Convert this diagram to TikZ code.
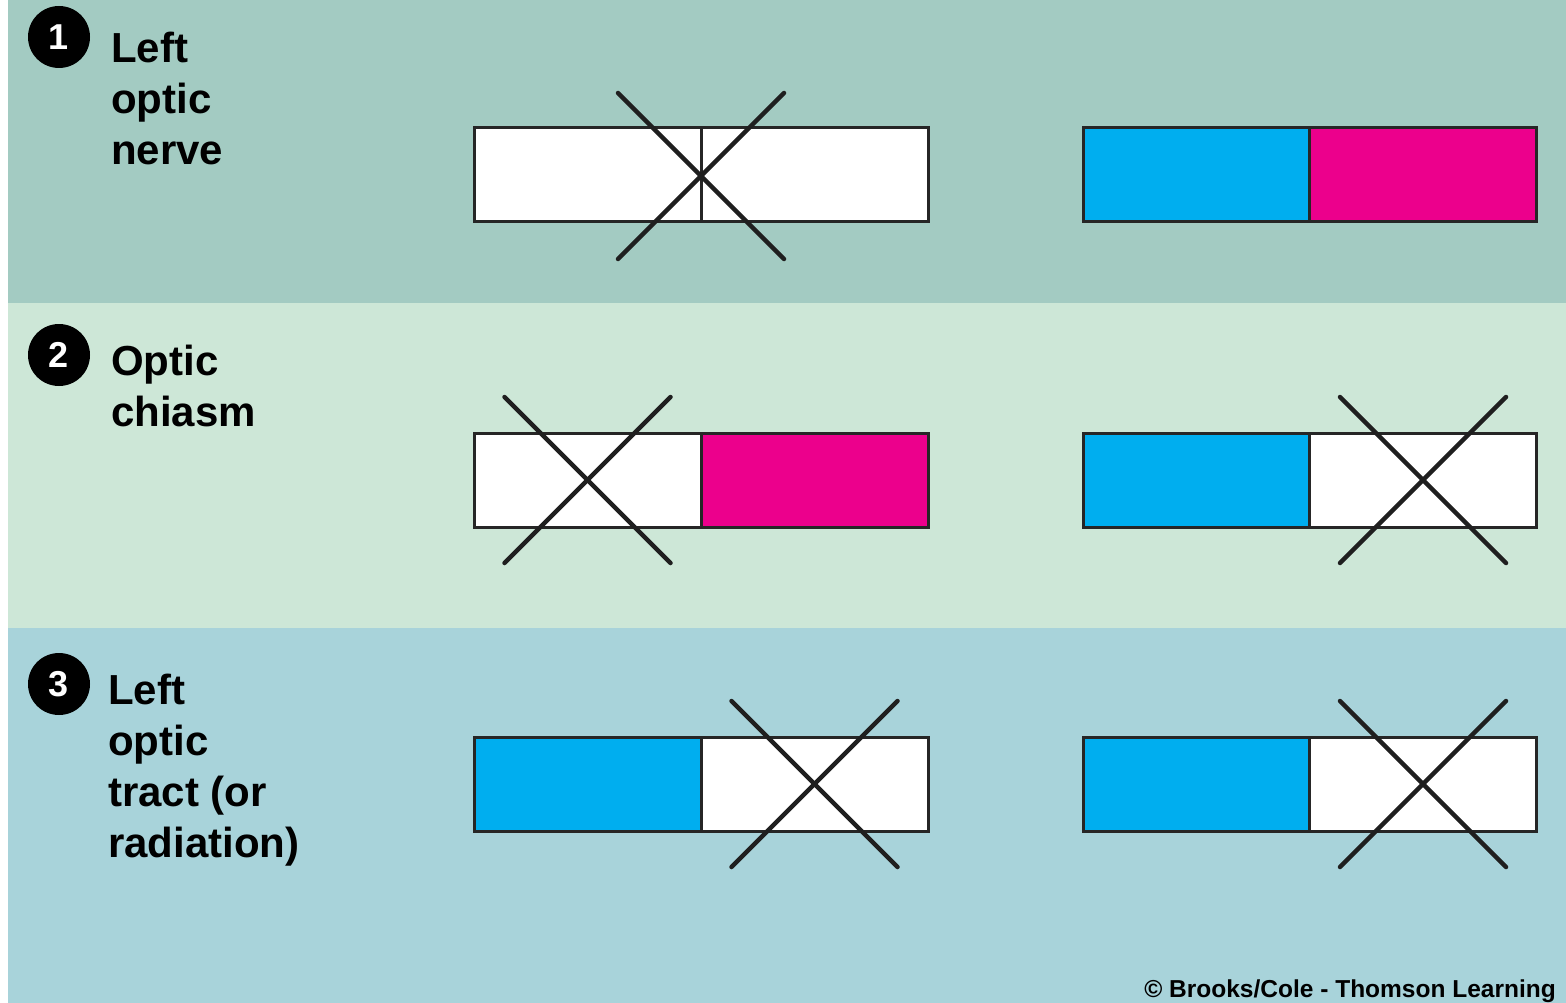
\documentclass[tikz,border=0pt]{standalone}
\usepackage{fontspec}
\setmainfont{Liberation Sans}
\definecolor{bandA}{HTML}{A3CBC2}
\definecolor{bandB}{HTML}{CDE7D7}
\definecolor{bandC}{HTML}{A8D3DA}
\definecolor{cyanfill}{HTML}{00AEEF}
\definecolor{magfill}{HTML}{EC008C}
\tikzset{
  half/.style={draw=black!85, line width=3pt, minimum width=227pt, minimum height=94pt, inner sep=0pt, outer sep=0pt},
  whitehalf/.style={half, fill=white},
  cyanhalf/.style={half, fill=cyanfill},
  maghalf/.style={half, fill=magfill},
  xline/.style={draw=black!88, line width=4.5pt, line cap=round},
  numdot/.style={circle, fill=black, minimum size=62pt, inner sep=0pt, text=white, font=\bfseries\fontsize{36}{36}\selectfont},
  label/.style={anchor=north west, inner sep=0pt, align=left, font=\bfseries\fontsize{42}{51}\selectfont},
  credit/.style={anchor=base east, inner sep=0pt, font=\bfseries\fontsize{24.5}{24.5}\selectfont}
}
\begin{document}
\begin{tikzpicture}[x=1pt,y=-1pt]
\useasboundingbox (0,0) rectangle (1566,1003);
\fill[white] (0,0) rectangle (1566,1003);
\fill[bandA] (8,0) rectangle (1566,303);
\fill[bandB] (8,303) rectangle (1566,628);
\fill[bandC] (8,628) rectangle (1566,1003);

% Row 1
\node[numdot] (n1) at (59,37) {1};
\node[label] (l1) at (111,31.5) {Left\\optic\\nerve};
\node[whitehalf] (r1a) at (587.5,175) {};
\node[whitehalf] (r1b) at (814.5,175) {};
\node[cyanhalf] (r1c) at (1196.5,175) {};
\node[maghalf] (r1d) at (1423,175) {};
\coordinate (x1) at (701,176);
\draw[xline,shift={(x1)}] (-83,-83) -- (83,83);
\draw[xline,shift={(x1)}] (83,-83) -- (-83,83);

% Row 2
\node[numdot] (n2) at (59,355) {2};
\node[label] (l2) at (111,345) {Optic\\chiasm};
\node[whitehalf] (r2a) at (587.5,480) {};
\node[maghalf] (r2b) at (814.5,480) {};
\node[cyanhalf] (r2c) at (1196.5,480) {};
\node[whitehalf] (r2d) at (1423,480) {};
\draw[xline,shift={(r2a.center)}] (-83,-83) -- (83,83);
\draw[xline,shift={(r2a.center)}] (83,-83) -- (-83,83);
\draw[xline,shift={(r2d.center)}] (-83,-83) -- (83,83);
\draw[xline,shift={(r2d.center)}] (83,-83) -- (-83,83);

% Row 3
\node[numdot] (n3) at (59,684) {3};
\node[label] (l3) at (108,674) {Left\\optic\\tract (or\\radiation)};
\node[cyanhalf] (r3a) at (587.5,784) {};
\node[whitehalf] (r3b) at (814.5,784) {};
\node[cyanhalf] (r3c) at (1196.5,784) {};
\node[whitehalf] (r3d) at (1423,784) {};
\draw[xline,shift={(r3b.center)}] (-83,-83) -- (83,83);
\draw[xline,shift={(r3b.center)}] (83,-83) -- (-83,83);
\draw[xline,shift={(r3d.center)}] (-83,-83) -- (83,83);
\draw[xline,shift={(r3d.center)}] (83,-83) -- (-83,83);

\node[credit] (cr) at (1556,997) {\textcopyright{} Brooks/Cole - Thomson Learning};
\end{tikzpicture}
\end{document}
